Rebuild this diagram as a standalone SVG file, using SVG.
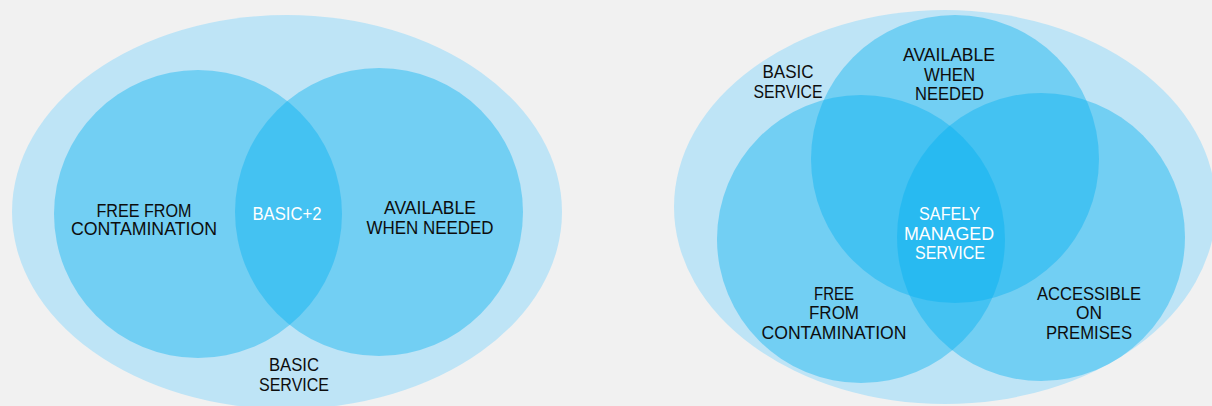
<svg xmlns="http://www.w3.org/2000/svg" width="1212" height="406" viewBox="0 0 1212 406">
<style>
.outer{fill:#bee4f6}
.set{fill:#00aeef;fill-opacity:0.4}
.lbl{font-family:"Liberation Sans",Arial,sans-serif;font-size:17.5px;fill:#0d0d0d;text-anchor:middle}
.w{fill:#ffffff}
</style>
<rect width="1212" height="406" fill="#f1f1f1"/>
<g id="left-diagram">
<g id="left-basic"><ellipse class="outer" cx="287" cy="212" rx="275" ry="197"/></g>
<g id="left-free"><circle class="set" cx="198" cy="214" r="144"/></g>
<g id="left-available"><circle class="set" cx="379" cy="212" r="144"/></g>
<g id="left-labels">
<text class="lbl" x="144" y="217" textLength="95" lengthAdjust="spacingAndGlyphs">FREE FROM</text>
<text class="lbl" x="144" y="235" textLength="146" lengthAdjust="spacingAndGlyphs">CONTAMINATION</text>
<text class="lbl w" x="287" y="220" textLength="69" lengthAdjust="spacingAndGlyphs">BASIC+2</text>
<text class="lbl" x="430" y="214" textLength="92" lengthAdjust="spacingAndGlyphs">AVAILABLE</text>
<text class="lbl" x="430" y="234" textLength="127" lengthAdjust="spacingAndGlyphs">WHEN NEEDED</text>
<text class="lbl" x="294" y="371" textLength="50" lengthAdjust="spacingAndGlyphs">BASIC</text>
<text class="lbl" x="294" y="391" textLength="70" lengthAdjust="spacingAndGlyphs">SERVICE</text>
</g>
</g>
<g id="right-diagram">
<g id="right-basic"><ellipse class="outer" cx="945" cy="207" rx="271" ry="197"/></g>
<g id="right-available"><circle class="set" cx="955" cy="159" r="144"/></g>
<g id="right-free"><circle class="set" cx="861" cy="239" r="144"/></g>
<g id="right-accessible"><circle class="set" cx="1041" cy="237" r="144"/></g>
<g id="right-labels">
<text class="lbl" x="788" y="78" textLength="51" lengthAdjust="spacingAndGlyphs">BASIC</text>
<text class="lbl" x="788" y="98" textLength="69" lengthAdjust="spacingAndGlyphs">SERVICE</text>
<text class="lbl" x="949" y="61" textLength="92" lengthAdjust="spacingAndGlyphs">AVAILABLE</text>
<text class="lbl" x="949.5" y="81" textLength="51" lengthAdjust="spacingAndGlyphs">WHEN</text>
<text class="lbl" x="949.5" y="100" textLength="69" lengthAdjust="spacingAndGlyphs">NEEDED</text>
<text class="lbl w" x="949.5" y="220" textLength="61" lengthAdjust="spacingAndGlyphs">SAFELY</text>
<text class="lbl w" x="949" y="240" textLength="90" lengthAdjust="spacingAndGlyphs">MANAGED</text>
<text class="lbl w" x="950" y="259" textLength="70" lengthAdjust="spacingAndGlyphs">SERVICE</text>
<text class="lbl" x="834" y="300" textLength="40" lengthAdjust="spacingAndGlyphs">FREE</text>
<text class="lbl" x="834" y="319" textLength="50" lengthAdjust="spacingAndGlyphs">FROM</text>
<text class="lbl" x="834" y="339" textLength="145" lengthAdjust="spacingAndGlyphs">CONTAMINATION</text>
<text class="lbl" x="1089" y="300" textLength="104" lengthAdjust="spacingAndGlyphs">ACCESSIBLE</text>
<text class="lbl" x="1089" y="319" textLength="26" lengthAdjust="spacingAndGlyphs">ON</text>
<text class="lbl" x="1089" y="339" textLength="86" lengthAdjust="spacingAndGlyphs">PREMISES</text>
</g>
</g>
<g id="connectors"/>
</svg>
